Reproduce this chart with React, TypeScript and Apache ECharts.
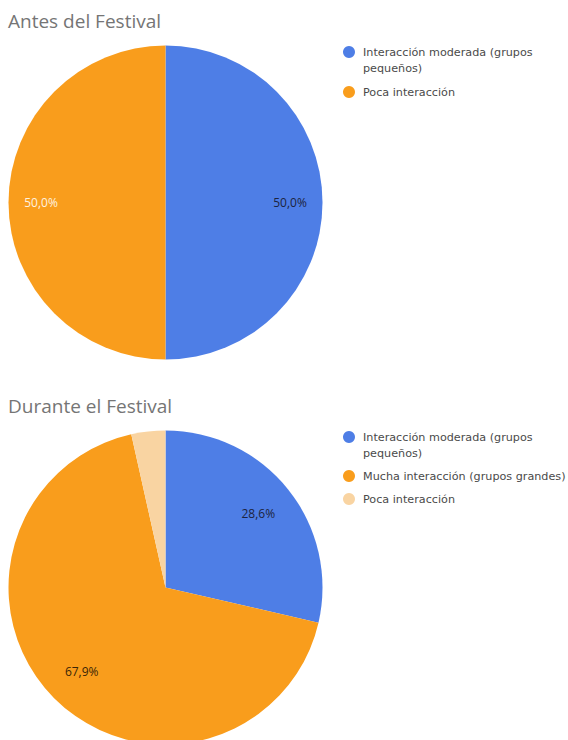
import React, { useEffect, useRef } from "react";
import * as echarts from "echarts";

const beforeTitle = "Antes del Festival";
const beforeCategories = ["Interacción moderada (grupos pequeños)", "Poca interacción"];
const beforeValues = [50, 50];
const beforeColors = ["#4e7ee6", "#f99d1c"];

const duringTitle = "Durante el Festival";
const duringCategories = [
  "Interacción moderada (grupos pequeños)",
  "Mucha interacción (grupos grandes)",
  "Poca interacción",
];
const duringValues = [28.6, 67.9, 3.5];
const duringColors = ["#4e7ee6", "#f99d1c", "#f9d4a2"];

const FONT = "'Open Sans', 'Noto Sans', sans-serif";
const LEGEND_FONT = "'DejaVu Sans', sans-serif";

function fmtPct(p: any) {
  return p.percent.toFixed(1).replace(".", ",") + "%";
}

function buildOption(
  title: string,
  cats: string[],
  vals: number[],
  colors: string[],
  labelCfg: any[],
  legendCenters: number[]
) {
  const legends = cats.map((c, i) => {
    const twoLine = c.length > 34;
    return {
      orient: "vertical",
      left: 338,
      top: twoLine ? legendCenters[i] - 29 : legendCenters[i] - 13,
      icon: "circle",
      itemWidth: 18,
      itemHeight: 12,
      data: [c],
      formatter: (n: string) => (twoLine ? " \n" + n.replace(" pequeños)", "\npequeños)") : n),
      textStyle: {
        fontFamily: LEGEND_FONT,
        fontSize: 11.2,
        color: "#4a4a4a",
        lineHeight: 16,
      },
    };
  });
  return {
    animation: false,
    title: {
      text: title,
      left: 3,
      top: 6,
      textStyle: { fontFamily: FONT, fontSize: 19, fontWeight: "normal", color: "#757575" },
    },
    legend: legends,
    series: [
      {
        type: "pie",
        center: [165.5, 202.5],
        radius: [0, 157],
        startAngle: 90,
        clockwise: true,
        silent: true,
        label: {
          show: true,
          position: "inside",
          formatter: fmtPct,
          fontFamily: FONT,
          fontSize: 12,
          color: "#222",
        },
        labelLine: { show: false },
        data: cats.map((c, i) => ({
          name: c,
          value: vals[i],
          itemStyle: { color: colors[i] },
          label: labelCfg[i],
        })),
      },
    ],
  };
}

function PieChart({ option, top, height }: { option: any; top: number; height: number }) {
  const ref = useRef<HTMLDivElement>(null);
  useEffect(() => {
    if (!ref.current) return;
    const chart = echarts.init(ref.current, undefined, { renderer: "svg" });
    chart.setOption(option);
    return () => chart.dispose();
  }, [option]);
  return (
    <div
      ref={ref}
      style={{ position: "absolute", left: 0, top, width: 568, height, overflow: "hidden" }}
    />
  );
}

const beforeOption = buildOption(
  beforeTitle,
  beforeCategories,
  beforeValues,
  beforeColors,
  [
    { offset: [43, 0], color: "#1c2440" },
    { offset: [-43, 0], color: "#fff3e0" },
  ],
  [52, 92]
);

const duringOption = buildOption(
  duringTitle,
  duringCategories,
  duringValues,
  duringColors,
  [
    { offset: [29, -23], color: "#1c2440" },
    { offset: [-26, 27], color: "#3a2506" },
    { show: false },
  ],
  [52, 91, 114]
);

export default function App() {
  return (
    <div style={{ position: "absolute", left: 0, top: 0, width: 568, height: 740, background: "#fff" }}>
      <PieChart option={beforeOption} top={0} height={385} />
      <PieChart option={duringOption} top={385} height={355} />
    </div>
  );
}
